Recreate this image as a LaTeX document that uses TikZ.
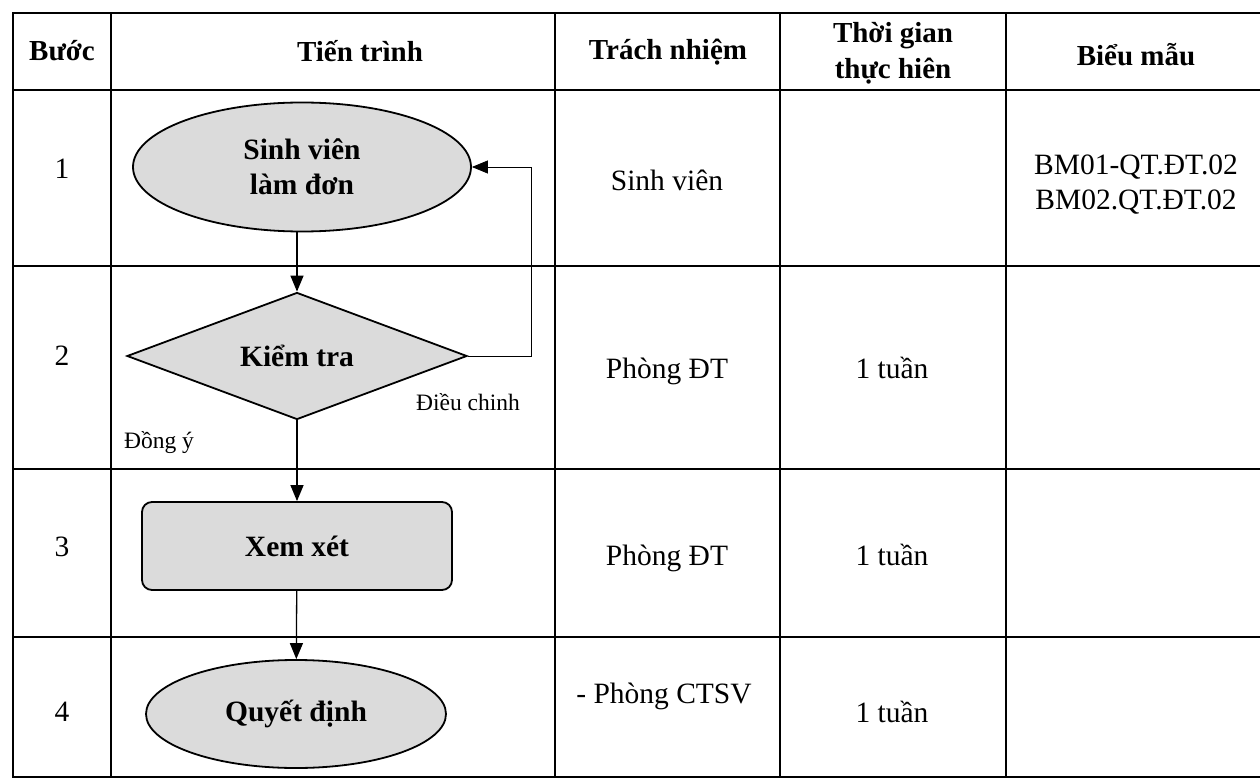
\documentclass[tikz,border=0pt]{standalone}
\usepackage{fontspec}
\setmainfont{Liberation Serif}
\usetikzlibrary{shapes, arrows.meta, positioning}

\begin{document}
\begin{tikzpicture}[x=1pt, y=-1pt,
            grid/.style={line width=1.6pt},
            txt/.style={font=\fontsize{29.5}{35}\selectfont, align=center},
            one/.style={txt, text height=21pt, text depth=6.5pt},
            hdr/.style={font=\fontsize{29}{36}\selectfont\bfseries, align=center},
            note/.style={font=\fontsize{23.5}{28}\selectfont},
            shp/.style={draw, line width=1.8pt, fill=gray!28, inner sep=0pt, align=center, font=\fontsize{29.5}{35}\selectfont\bfseries},
            term/.style={shp, ellipse},
            check/.style={shp, diamond},
            proc/.style={shp, rectangle, rounded corners=10pt},
            arr/.style={-{Triangle[length=16pt, width=13pt]}, line width=1.3pt}]
            \useasboundingbox (0,0) rectangle (1260,783);

            % khung bang
            \draw[grid] (13,13) rectangle (1270,777);
            \foreach \cx in {111,555,780,1006}
                \draw[grid] (\cx,13) -- (\cx,777);
            \foreach \ry in {90,266,469,637}
                \draw[grid] (13,\ry) -- (1270,\ry);

            % tieu de
            \node[hdr] (hbuoc) at (62,51) {Bước};
            \node[hdr] (htien) at (360,51) {Tiến trình};
            \node[hdr] (htrach) at (668,52) {Trách nhiệm};
            \node[hdr] (htgian) at (893,53) {Thời gian\\thực hiên};
            \node[hdr] (hbieu) at (1136,55) {Biểu mẫu};

            % cot buoc
            \node[one] (b1) at (62,171) {1};
            \node[one] (b2) at (62,358) {2};
            \node[one] (b3) at (62,549) {3};
            \node[one] (b4) at (62,714) {4};

            % tien trinh
            \node[term, minimum width=338, minimum height=129] (sv) at (302,167) {Sinh viên\\làm đơn};
            \node[check, minimum width=340, minimum height=127, aspect=2.7] (kt) at (297,356) {Kiểm tra};
            \node[proc, minimum width=310, minimum height=88] (xx) at (297,546) {Xem xét};
            \node[term, minimum width=300, minimum height=108] (qd) at (296,714) {Quyết định};

            \node[note] (dc) at (468,402) {Điều chinh};
            \node[note] (dy) at (159,443) {Đồng ý};

            \draw[arr] (sv.south -| kt) -- (kt.north);
            \draw[arr] (kt) -- (xx);
            \draw[arr] (xx) -- (qd);
            \draw[arr, line width=0.8pt] (kt.east) -- ++(63,0) |- (sv.east);

            % trach nhiem, thoi gian, bieu mau
            \node[one] (tn1) at (667,183) {Sinh viên};
            \node[one] (tn2) at (667,371) {Phòng ĐT};
            \node[one] (tn3) at (667,558) {Phòng ĐT};
            \node[one] (tn4) at (664,696) {- Phòng CTSV};
            \node[one] (tg2) at (892,371) {1 tuần};
            \node[one] (tg3) at (892,558) {1 tuần};
            \node[one] (tg4) at (892,715) {1 tuần};
            \node[txt] (bm1) at (1136,185) {BM01-QT.ĐT.02\\BM02.QT.ĐT.02};
        \end{tikzpicture}
\end{document}
